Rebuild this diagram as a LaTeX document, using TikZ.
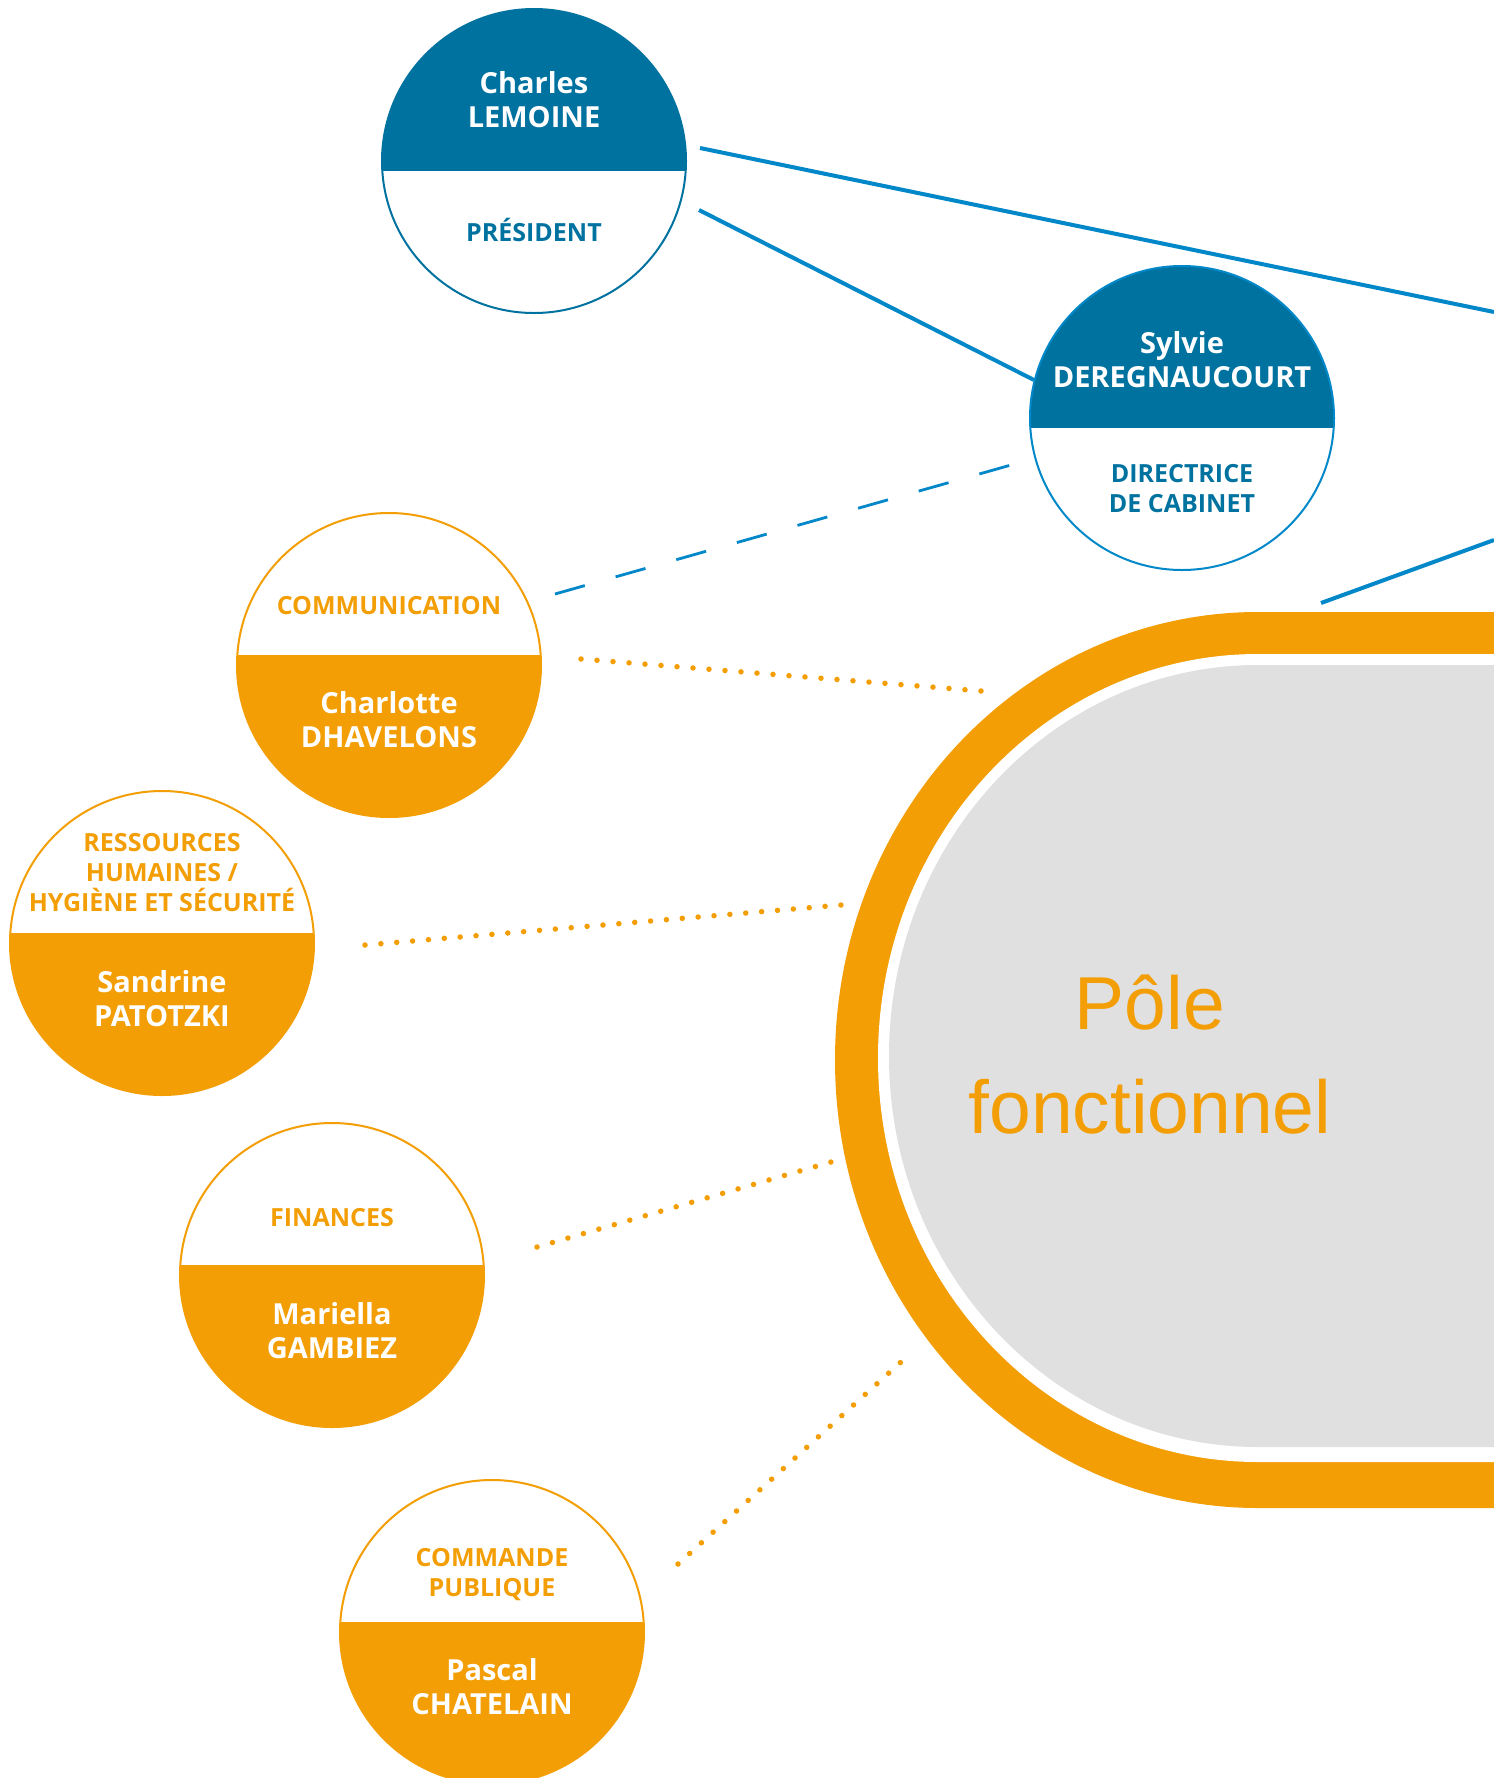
\documentclass[tikz,border=0pt]{standalone}
\usepackage{fontspec}
\setmainfont{Open Sans}
\newfontfamily\polefont{Liberation Sans}
\definecolor{bluedark}{RGB}{0,114,160}
\definecolor{blueline}{RGB}{2,136,200}
\definecolor{orangec}{RGB}{243,158,5}
\definecolor{greyc}{RGB}{224,224,224}
\begin{document}
\begin{tikzpicture}[x=1pt,y=1pt,
  bluebubble/.style={circle, draw=bluedark, line width=2pt, minimum size=304pt, inner sep=0pt, fill=white,
    path picture={\fill[bluedark] ([yshift=4pt]path picture bounding box.north west) rectangle ([yshift=-9.5pt]path picture bounding box.east);}},
  orangebubble/.style={circle, draw=orangec, line width=2pt, minimum size=304pt, inner sep=0pt, fill=white,
    path picture={\fill[orangec] ([yshift=10pt]path picture bounding box.west) rectangle ([yshift=-4pt]path picture bounding box.south east);}},
  nametext/.style={font=\bfseries\fontsize{29}{34}\selectfont, text=white, align=center, inner sep=0pt, anchor=base},
  bluetitle/.style={font=\bfseries\fontsize{25}{30}\selectfont, text=bluedark, align=center, inner sep=0pt, anchor=base},
  orangetitle/.style={font=\bfseries\fontsize{25}{30}\selectfont, text=orangec, align=center, inner sep=0pt, anchor=base},
  link/.style={blueline, line width=4pt},
  dashlink/.style={blueline, line width=2.8pt, dash pattern=on 31pt off 32pt},
  dotlink/.style={orangec, line width=5.5pt, line cap=round, dash pattern=on 0pt off 16.2pt}
]
\useasboundingbox (0,0) rectangle (1494,-1778);
\fill[white] (0,0) rectangle (1494,-1778);

% Pole fonctionnel shape
\fill[orangec] (1494,-612) -- (1258,-612) arc[start angle=90, end angle=270, x radius=423pt, y radius=448pt] -- (1494,-1508) -- cycle;
\fill[white] (1494,-654) -- (1258,-654) arc[start angle=90, end angle=270, x radius=380pt, y radius=404pt] -- (1494,-1462) -- cycle;
\fill[greyc] (1494,-665) -- (1258,-665) arc[start angle=90, end angle=270, x radius=369pt, y radius=391pt] -- (1494,-1447) -- cycle;
\node[font=\polefont\fontsize{75}{104}\selectfont, text=orangec, align=center, anchor=base, inner sep=0pt] (pole) at (1150,-1133) {Pôle\\fonctionnel};

% Bubbles
\node[bluebubble] (charles) at (534,-161) {};
\node[nametext] (charlesname) at (534,-127) {Charles\\LEMOINE};
\node[bluetitle] (charlestitle) at (534,-241) {PRÉSIDENT};

\node[bluebubble, draw=blueline] (sylvie) at (1182,-418) {};
\node[nametext] (sylviename) at (1182,-387) {Sylvie\\DEREGNAUCOURT};
\node[bluetitle] (sylvietitle) at (1182,-512) {DIRECTRICE\\DE CABINET};

\node[orangebubble] (comm) at (389,-665) {};
\node[orangetitle] (commtitle) at (389,-614) {COMMUNICATION};
\node[nametext] (commname) at (389,-747) {Charlotte\\DHAVELONS};

\node[orangebubble] (rh) at (162,-943) {};
\node[orangetitle] (rhtitle) at (162,-911) {RESSOURCES\\HUMAINES /\\HYGIÈNE ET SÉCURITÉ};
\node[nametext] (rhname) at (162,-1026) {Sandrine\\PATOTZKI};

\node[orangebubble] (fin) at (332,-1275) {};
\node[orangetitle] (fintitle) at (332,-1226) {FINANCES};
\node[nametext] (finname) at (332,-1358) {Mariella\\GAMBIEZ};

\node[orangebubble] (cmd) at (492,-1632) {};
\node[orangetitle] (cmdtitle) at (492,-1596) {COMMANDE\\PUBLIQUE};
\node[nametext] (cmdname) at (492,-1714) {Pascal\\CHATELAIN};

% connector end points
\coordinate (c1a) at (700,-148);
\coordinate (c1b) at (1494,-312);
\coordinate (c2a) at (699,-210);
\coordinate (c2b) at (1034,-380);
\coordinate (c3a) at (1321,-603);
\coordinate (c3b) at (1494,-540);
\coordinate (d1a) at (555,-594);
\coordinate (d1b) at (1011,-465);
\coordinate (o1a) at (581,-659);
\coordinate (o1b) at (981,-691);
\coordinate (o2a) at (365,-945);
\coordinate (o2b) at (841,-905);
\coordinate (o3a) at (537,-1247);
\coordinate (o3b) at (831,-1162);
\coordinate (o4a) at (678,-1564);
\coordinate (o4b) at (912,-1352);

\draw[link] (c1a) -- (c1b);
\draw[link] (c2a) -- (c2b);
\draw[link] (c3a) -- (c3b);
\draw[dashlink] (d1a) -- (d1b);
\draw[dotlink, dash pattern=on 0pt off 16.05pt] (o1a) -- (o1b);
\draw[dotlink, dash pattern=on 0pt off 15.92pt] (o2a) -- (o2b);
\draw[dotlink, dash pattern=on 0pt off 16.1pt] (o3a) -- (o3b);
\draw[dotlink, dash pattern=on 0pt off 15.79pt] (o4a) -- (o4b);
\end{tikzpicture}
\end{document}
